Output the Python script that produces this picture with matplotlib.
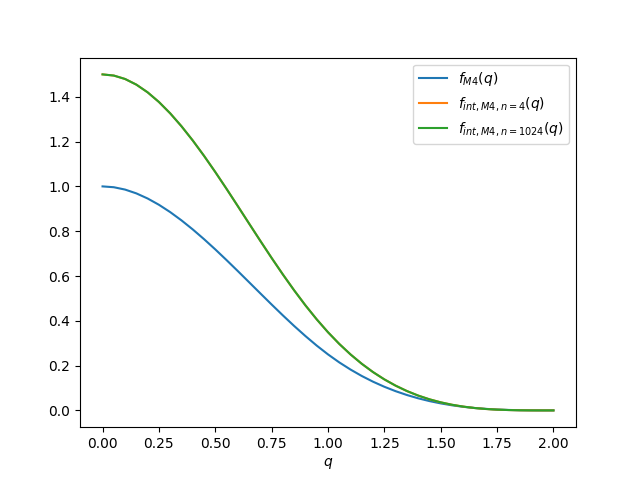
import matplotlib
matplotlib.use("Agg")
import matplotlib.pyplot as plt

q = [0.0, 0.05, 0.1, 0.15, 0.2, 0.25, 0.3, 0.35, 0.4, 0.45, 0.5,
     0.55, 0.6, 0.65, 0.7, 0.75, 0.8, 0.85, 0.9, 0.95, 1.0,
     1.05, 1.1, 1.15, 1.2, 1.25, 1.3, 1.35, 1.4, 1.45, 1.5,
     1.55, 1.6, 1.65, 1.7, 1.75, 1.8, 1.85, 1.9, 1.95, 2.0]

f_m4 = [1.0, 0.9963, 0.9858, 0.9688, 0.946, 0.918, 0.8853, 0.8484, 0.808, 0.7646, 0.7188,
        0.671, 0.622, 0.5722, 0.5223, 0.4727, 0.424, 0.3768, 0.3318, 0.2893, 0.25,
        0.2143, 0.1823, 0.1535, 0.128, 0.1055, 0.0858, 0.0687, 0.054, 0.0416, 0.0313,
        0.0228, 0.016, 0.0107, 0.0068, 0.0039, 0.002, 0.0008, 0.0003, 0.0, 0.0]

f_int_n4 = [1.5, 1.4948, 1.4795, 1.4543, 1.4199, 1.3769, 1.3262, 1.2686, 1.2051, 1.1366, 1.0642,
            0.989, 0.9119, 0.8341, 0.7566, 0.6805, 0.6066, 0.5358, 0.4688, 0.4064, 0.3489,
            0.2968, 0.2498, 0.2079, 0.1708, 0.1384, 0.1104, 0.0864, 0.0662, 0.0495, 0.0360,
            0.0252, 0.0169, 0.0107, 0.0063, 0.0034, 0.0016, 0.0006, 0.0001, 0.0, 0.0]

f_int_n1024 = [1.5, 1.4948, 1.4795, 1.4543, 1.4199, 1.3769, 1.3262, 1.2686, 1.2051, 1.1366, 1.0642,
               0.989, 0.9119, 0.8341, 0.7566, 0.6805, 0.6066, 0.5358, 0.4688, 0.4064, 0.3489,
               0.2968, 0.2498, 0.2079, 0.1708, 0.1384, 0.1104, 0.0864, 0.0662, 0.0495, 0.0360,
               0.0252, 0.0169, 0.0107, 0.0063, 0.0034, 0.0016, 0.0006, 0.0001, 0.0, 0.0]

fig, ax = plt.subplots(figsize=(6.4, 4.8), dpi=100)
ax.plot(q, f_m4, label=r"$f_{M4}(q)$")
ax.plot(q, f_int_n4, label=r"$f_{int,M4,n=4}(q)$")
ax.plot(q, f_int_n1024, label=r"$f_{int,M4,n=1024}(q)$")
ax.set_xlabel(r"$q$")
ax.legend(loc="upper right")
fig.savefig("out.png", dpi=100)
